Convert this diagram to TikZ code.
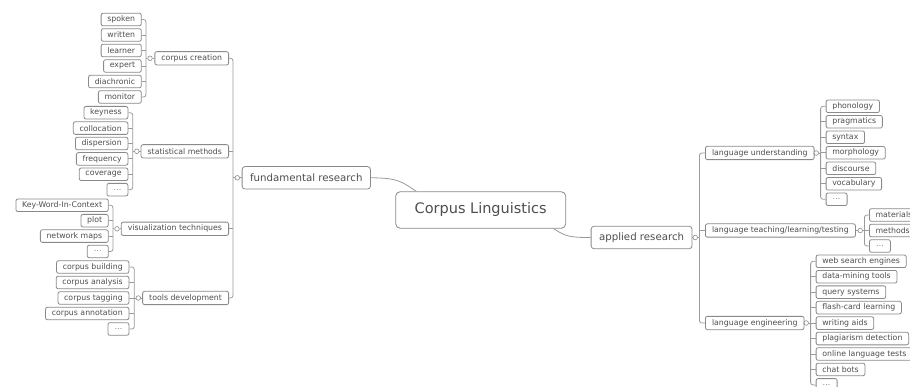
\documentclass[tikz,border=0pt]{standalone}
\usepackage{fontspec}
\setmainfont{DejaVu Sans}
\usetikzlibrary{calc}
\definecolor{bordc}{HTML}{8A8A8A}
\definecolor{linec}{HTML}{9A9A9A}
\definecolor{txtc}{HTML}{4E4E4E}
\tikzset{
 box/.style={draw=bordc, line width=0.8pt, fill=white, rounded corners=2pt, text=txtc,
   font=\fontsize{7.8}{9}\selectfont, inner xsep=6.2pt, inner ysep=0pt, minimum height=12.6pt},
 dots/.style={box, minimum width=21pt, text=gray},
 mid/.style={box, minimum height=13.3pt, inner xsep=6.6pt},
 main/.style={box, rounded corners=3pt, font=\fontsize{10.2}{12}\selectfont, minimum height=22.5pt, inner xsep=8pt},
 root/.style={box, rounded corners=4.5pt, font=\fontsize{14.5}{17}\selectfont, minimum height=36.6pt, minimum width=170pt},
 circ/.style={circle, draw=bordc, line width=0.6pt, fill=white, inner sep=0pt, minimum size=4.6pt},
 link/.style={draw=linec, line width=0.8pt, rounded corners=2.5pt},
}
\begin{document}
\begin{tikzpicture}[x=1pt,y=-1pt]
\clip (0,0) rectangle (910,387);
\fill[white] (0,0) rectangle (910,387);

% ---------- root and main topics ----------
\node[root] (cl) at (480.7,210) {Corpus Linguistics};
\node[main, anchor=west] (fr) at (241.7,177.8) {fundamental research};
\node[main, anchor=west] (ar) at (590.7,237.5) {applied research};

% ---------- fundamental research subtopics ----------
\node[mid, anchor=east] (cc) at (229,58.3) {corpus creation};
\node[mid, anchor=east] (sm) at (229,151.3) {statistical methods};
\node[mid, anchor=east] (vt) at (229,228.8) {visualization techniques};
\node[mid, anchor=east] (td) at (229,298) {tools development};

% corpus creation leaves
\node[box, anchor=east] (c1) at (141.7,19.5) {spoken};
\node[box, anchor=east] (c2) at (141.7,35) {written};
\node[box, anchor=east] (c3) at (141.7,50.5) {learner};
\node[box, anchor=east] (c4) at (141.7,66) {expert};
\node[box, anchor=east] (c5) at (141.7,81.5) {diachronic};
\node[box, anchor=east] (c6) at (141.7,97) {monitor};

% statistical methods leaves
\node[box, anchor=east] (s1) at (128.3,112.7) {keyness};
\node[box, anchor=east] (s2) at (128.3,128.1) {collocation};
\node[box, anchor=east] (s3) at (128.3,143.5) {dispersion};
\node[box, anchor=east] (s4) at (128.3,158.9) {frequency};
\node[box, anchor=east] (s5) at (128.3,174.3) {coverage};
\node[dots, anchor=east] (s6) at (128.3,189.7) {…};

% visualization leaves
\node[box, anchor=east] (v1) at (108.7,205.3) {Key-Word-In-Context};
\node[box, anchor=east] (v2) at (108.7,220.7) {plot};
\node[box, anchor=east] (v3) at (108.7,236.1) {network maps};
\node[dots, anchor=east] (v4) at (108.7,251.5) {…};

% tools development leaves
\node[box, anchor=east] (t1) at (129.3,267) {corpus building};
\node[box, anchor=east] (t2) at (129.3,282.5) {corpus analysis};
\node[box, anchor=east] (t3) at (129.3,298) {corpus tagging};
\node[box, anchor=east] (t4) at (129.3,313.5) {corpus annotation};
\node[dots, anchor=east] (t5) at (129.3,329) {…};

% ---------- applied research subtopics ----------
\node[mid, anchor=west] (lu) at (705,153) {language understanding};
\node[mid, anchor=west] (lt) at (705,230.5) {language teaching/learning/testing};
\node[mid, anchor=west] (le) at (705,323) {language engineering};

\node[box, anchor=west] (u1) at (825.7,106.3) {phonology};
\node[box, anchor=west] (u2) at (825.7,121.8) {pragmatics};
\node[box, anchor=west] (u3) at (825.7,137.3) {syntax};
\node[box, anchor=west] (u4) at (825.7,152.8) {morphology};
\node[box, anchor=west] (u5) at (825.7,168.3) {discourse};
\node[box, anchor=west] (u6) at (825.7,183.8) {vocabulary};
\node[dots, anchor=west] (u7) at (825.7,199.3) {…};

\node[box, anchor=west] (l1) at (869,215) {materials};
\node[box, anchor=west] (l2) at (869,230.5) {methods};
\node[dots, anchor=west] (l3) at (869,246) {…};

\node[box, anchor=west] (e1) at (815.7,261.3) {web search engines};
\node[box, anchor=west] (e2) at (815.7,276.75) {data-mining tools};
\node[box, anchor=west] (e3) at (815.7,292.2) {query systems};
\node[box, anchor=west] (e4) at (815.7,307.65) {flash-card learning};
\node[box, anchor=west] (e5) at (815.7,323.1) {writing aids};
\node[box, anchor=west] (e6) at (815.7,338.55) {plagiarism detection};
\node[box, anchor=west] (e7) at (815.7,354) {online language tests};
\node[box, anchor=west] (e8) at (815.7,369.45) {chat bots};
\node[dots, anchor=west] (e9) at (815.7,384.9) {…};

% ---------- collapse circles and spine points ----------
\node[circ] (frC) at (237.3,177.8) {};  \coordinate (frS) at (233,177.8);
\node[circ] (ccC) at (150,58.3) {};     \coordinate (ccS) at (146,58.3);
\node[circ] (smC) at (136.8,151.3) {};  \coordinate (smS) at (132.8,151.3);
\node[circ] (vtC) at (117,228.8) {};    \coordinate (vtS) at (113,228.8);
\node[circ] (tdC) at (138.3,298) {};    \coordinate (tdS) at (134.3,298);
\node[circ] (arC) at (695.2,237.5) {};  \coordinate (arS) at (699.4,237.5);
\node[circ] (luC) at (816.2,153) {};    \coordinate (luS) at (820.6,153);
\node[circ] (ltC) at (860.2,230.5) {};  \coordinate (ltS) at (864.4,230.5);
\node[circ] (leC) at (806.2,323) {};    \coordinate (leS) at (810.6,323);

% ---------- connectors ----------
\coordinate (clT) at ($(cl.north west)+(21,0)$);
\coordinate (clB) at ($(cl.south east)+(-12.4,0)$);
\draw[link] (fr.east) .. controls +(28,0) and +(-14,-9) .. (clT);
\draw[link] (clB) .. controls +(12,8) and +(-20,0) .. (ar.west);

% fundamental research
\draw[link] (fr.west) -- (frC.east);
\draw[link] (frC.west) -- (frS);
\draw[link] (cc.east) -| (frS);
\draw[link] (td.east) -| (frS);
\draw[link] (sm.east) -- (sm.east -| frS);
\draw[link] (vt.east) -- (vt.east -| frS);

% corpus creation
\draw[link] (cc.west) -- (ccC.east);
\draw[link] (ccC.west) -- (ccS);
\draw[link] (c1.east) -| (ccS);
\draw[link] (c6.east) -| (ccS);
\foreach \n in {c2,c3,c4,c5} \draw[link] (\n.east) -- (\n.east -| ccS);

% statistical methods
\draw[link] (sm.west) -- (smC.east);
\draw[link] (smC.west) -- (smS);
\draw[link] (s1.east) -| (smS);
\draw[link] (s6.east) -| (smS);
\foreach \n in {s2,s3,s4,s5} \draw[link] (\n.east) -- (\n.east -| smS);

% visualization
\draw[link] (vt.west) -- (vtC.east);
\draw[link] (vtC.west) -- (vtS);
\draw[link] (v1.east) -| (vtS);
\draw[link] (v4.east) -| (vtS);
\foreach \n in {v2,v3} \draw[link] (\n.east) -- (\n.east -| vtS);

% tools development
\draw[link] (td.west) -- (tdC.east);
\draw[link] (tdC.west) -- (tdS);
\draw[link] (t1.east) -| (tdS);
\draw[link] (t5.east) -| (tdS);
\foreach \n in {t2,t4} \draw[link] (\n.east) -- (\n.east -| tdS);
\draw[link] (tdS) -- (t3.east);

% applied research
\draw[link] (ar.east) -- (arC.west);
\draw[link] (arC.east) -- (arS);
\draw[link] (arS) |- (lu.west);
\draw[link] (arS) |- (le.west);
\draw[link] (lt.west -| arS) -- (lt.west);

% language understanding
\draw[link] (lu.east) -- (luC.west);
\draw[link] (luC.east) -- (luS);
\draw[link] (luS) |- (u1.west);
\draw[link] (luS) |- (u7.west);
\foreach \n in {u2,u3,u4,u5,u6} \draw[link] (\n.west -| luS) -- (\n.west);

% language teaching
\draw[link] (lt.east) -- (ltC.west);
\draw[link] (ltC.east) -- (ltS);
\draw[link] (ltS) |- (l1.west);
\draw[link] (ltS) |- (l3.west);
\draw[link] (ltS) -- (l2.west);

% language engineering
\draw[link] (le.east) -- (leC.west);
\draw[link] (leC.east) -- (leS);
\draw[link] (leS) |- (e1.west);
\draw[link] (leS) |- (e9.west);
\foreach \n in {e2,e3,e4,e5,e6,e7,e8} \draw[link] (\n.west -| leS) -- (\n.west);
\end{tikzpicture}
\end{document}
